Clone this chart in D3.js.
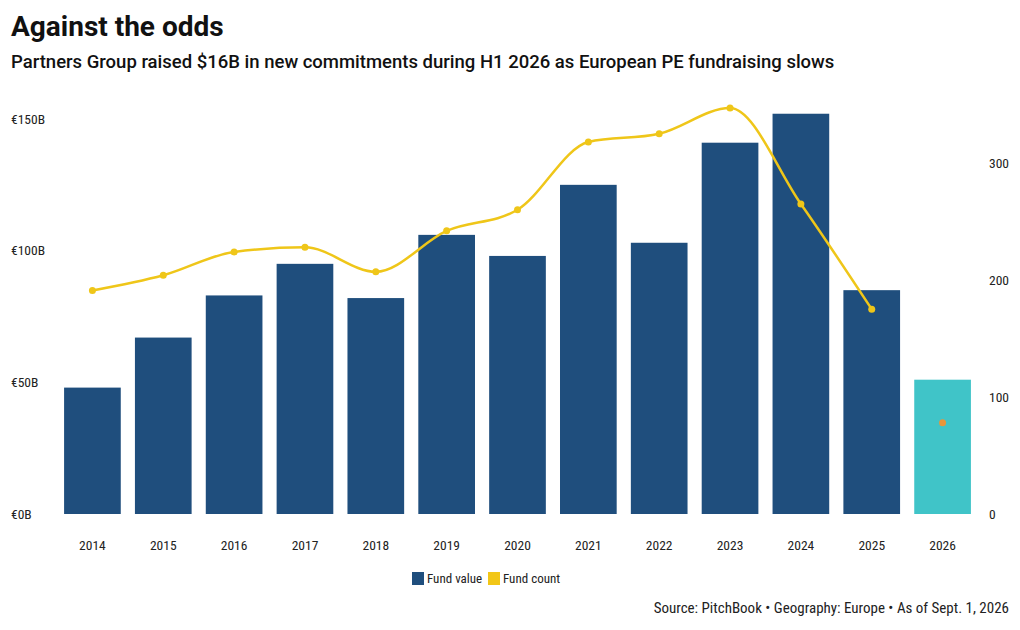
<!DOCTYPE html>
<html>
<head>
<meta charset="utf-8">
<script src="https://cdn.jsdelivr.net/npm/d3@7"></script>
<style>
  body { margin: 0; background: #fff; }
  .cond { font-family: "Liberation Sans Narrow", "Roboto Condensed", Roboto, sans-serif; }
</style>
</head>
<body>
<div id="chart-area"></div>
<script>
/*
*    against the odds - fund value & count
*/

var years = ["2014", "2015", "2016", "2017", "2018", "2019", "2020", "2021", "2022", "2023", "2024", "2025", "2026"];
var fundValue = [48, 67, 83, 95, 82, 106, 98, 125, 103, 141, 152, 85, 51];
var fundCount = [191, 204, 224, 228, 207, 242, 260, 318, 325, 347, 265, 175, null];
var fundCount2026 = 78;
var leftTicks = [0, 50, 100, 150];
var rightTicks = [0, 100, 200, 300];

var width = 1020;
var height = 630;

var svg = d3.select('#chart-area')
    .append('svg')
        .attr('width', width)
        .attr('height', height);

// titles
svg.append("text")
    .attr("x", 11)
    .attr("y", 36)
    .attr("font-family", "Roboto")
    .attr("font-weight", 700)
    .attr("font-size", "28px")
    .attr("fill", "#111")
    .text("Against the odds");

svg.append("text")
    .attr("x", 11)
    .attr("y", 68)
    .attr("font-family", "Roboto")
    .attr("font-weight", 500)
    .attr("font-size", "18.5px")
    .attr("fill", "#111")
    .text("Partners Group raised $16B in new commitments during H1 2026 as European PE fundraising slows");

var x = d3.scaleBand()
    .domain(years)
    .range([57, 978])
    .paddingInner(0.2)
    .paddingOuter(0.1);

var y = d3.scaleLinear()
    .domain([0, 150])
    .range([514, 119]);

var y2 = d3.scaleLinear()
    .domain([0, 300])
    .range([514, 163]);

// bars
svg.selectAll("rect.bar").data(years)
    .enter()
    .append("rect")
    .attr("class", "bar")
    .attr("x", (d) => { return x(d); })
    .attr("y", (d, i) => { return y(fundValue[i]); })
    .attr("width", x.bandwidth())
    .attr("height", (d, i) => { return y(0) - y(fundValue[i]); })
    .attr("fill", (d) => { return d === "2026" ? "#40c4c8" : "#1f4e7d"; });

// line
var pts = years.map((d, i) => { return {year: d, count: fundCount[i]}; })
    .filter((d) => { return d.count !== null; });

var line = d3.line()
    .x((d) => { return x(d.year) + x.bandwidth() / 2; })
    .y((d) => { return y2(d.count); })
    .curve(d3.curveMonotoneX);

svg.append("path")
    .datum(pts)
    .attr("d", line)
    .attr("fill", "none")
    .attr("stroke", "#efc619")
    .attr("stroke-width", 2.5);

svg.selectAll("circle.pt").data(pts)
    .enter()
    .append("circle")
    .attr("class", "pt")
    .attr("cx", (d) => { return x(d.year) + x.bandwidth() / 2; })
    .attr("cy", (d) => { return y2(d.count); })
    .attr("r", 3.5)
    .attr("fill", "#efc619");

svg.append("circle")
    .attr("cx", x("2026") + x.bandwidth() / 2)
    .attr("cy", y2(fundCount2026))
    .attr("r", 3.5)
    .attr("fill", "#e8963a");

// axes
var leftAxis = d3.axisLeft(y)
    .tickValues(leftTicks)
    .tickSize(0)
    .tickFormat((d) => { return "€" + d + "B"; });

var gl = svg.append("g")
    .attr("class", "left axis")
    .attr("transform", "translate(11, 0)")
    .call(leftAxis);
gl.select(".domain").remove();
gl.selectAll("text")
    .attr("x", 0)
    .attr("text-anchor", "start")
    .attr("font-size", "13.5px")
    .attr("fill", "#222")
    .attr("class", "cond");

var rightAxis = d3.axisRight(y2)
    .tickValues(rightTicks)
    .tickSize(0);

var gr = svg.append("g")
    .attr("class", "right axis")
    .attr("transform", "translate(989, 0)")
    .call(rightAxis);
gr.select(".domain").remove();
gr.selectAll("text")
    .attr("x", 0)
    .attr("text-anchor", "start")
    .attr("font-size", "13.5px")
    .attr("fill", "#222")
    .attr("class", "cond");

var bottomAxis = d3.axisBottom(x).tickSize(0);
var gb = svg.append("g")
    .attr("class", "bottom axis")
    .attr("transform", "translate(0, 514)")
    .call(bottomAxis);
gb.select(".domain").remove();
gb.selectAll("text")
    .attr("y", 26)
    .attr("font-size", "13.5px")
    .attr("fill", "#222")
    .attr("class", "cond");

// legend
var legend = [
    {label: "Fund value", color: "#1f4e7d", x: 412},
    {label: "Fund count", color: "#f2c617", x: 488}
];
var lg = svg.selectAll("g.legend").data(legend)
    .enter()
    .append("g")
    .attr("class", "legend")
    .attr("transform", (d) => { return "translate(" + d.x + ", 572)"; });
lg.append("rect")
    .attr("width", 12)
    .attr("height", 13)
    .attr("fill", (d) => { return d.color; });
lg.append("text")
    .attr("class", "cond")
    .attr("x", 15)
    .attr("y", 11)
    .attr("font-size", "13px")
    .attr("fill", "#222")
    .text((d) => { return d.label; });

svg.append("text")
    .attr("class", "cond")
    .attr("x", 1009)
    .attr("y", 613)
    .attr("text-anchor", "end")
    .attr("font-size", "15px")
    .attr("fill", "#222")
    .text("Source: PitchBook • Geography: Europe • As of Sept. 1, 2026");
</script>
</body>
</html>
